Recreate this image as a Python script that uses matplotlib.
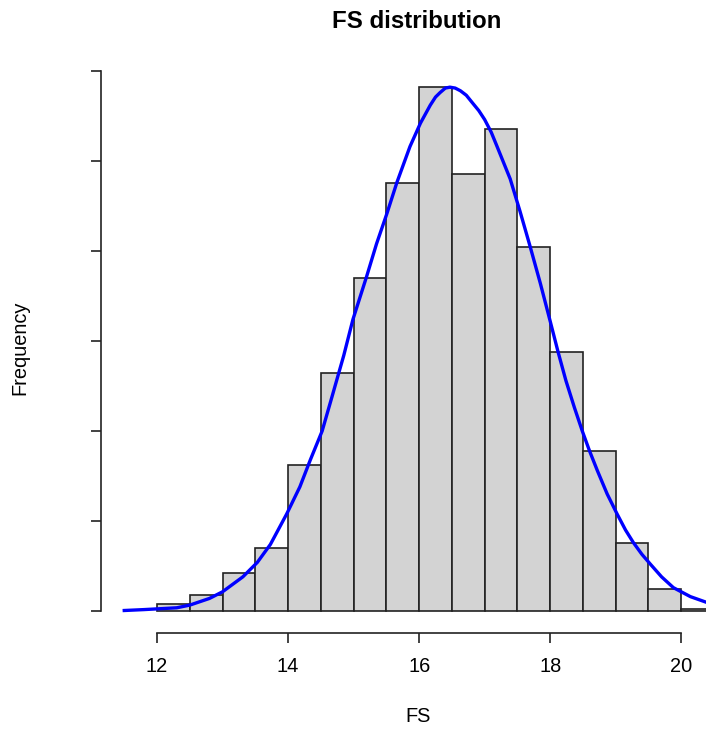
import matplotlib
matplotlib.use("Agg")
from matplotlib import pyplot as plt

plt.rcParams['font.family'] = ['Liberation Sans', 'DejaVu Sans']

# histogram bins (width 0.5) and counts
bin_edges = [12.0, 12.5, 13.0, 13.5, 14.0, 14.5, 15.0, 15.5, 16.0, 16.5,
             17.0, 17.5, 18.0, 18.5, 19.0, 19.5, 20.0, 20.5]
counts = [4, 9, 21, 35, 81, 132, 185, 238, 291, 243, 268, 202, 144, 89, 38, 12, 1]

# density curve (scaled to counts), read point by point
curve_x = [11.50, 11.80, 12.30, 12.50, 12.80, 13.00, 13.31, 13.53, 13.73, 13.98,
           14.18, 14.34, 14.52, 14.67, 14.85, 14.99, 15.20, 15.35, 15.51, 15.66,
           15.86, 16.02, 16.17, 16.25, 16.32, 16.40, 16.47, 16.55, 16.63, 16.72,
           16.82, 16.91, 17.00, 17.10, 17.19, 17.39, 17.54, 17.69, 17.85, 18.00,
           18.12, 18.24, 18.37, 18.49, 18.60, 18.72, 18.87, 19.02, 19.15, 19.27,
           19.40, 19.53, 19.70, 19.88, 20.14, 20.45]
curve_y = [0.3, 0.8, 1.8, 3.3, 7, 10.7, 19, 27, 37, 54,
           69, 84, 100, 119, 142, 162, 186, 204, 221, 238,
           258, 271, 281, 285.5, 288, 290.5, 291, 290.5, 289, 286.5,
           282, 278, 273, 266, 258, 240, 222, 203, 182, 161,
           144, 128, 113, 100, 89, 78, 65, 54, 45, 38,
           31.5, 26, 19, 13, 8, 4]

y_ticks = [0, 50, 100, 150, 200, 250, 300]
x_ticks = [12, 14, 16, 18, 20]

fig = plt.figure(figsize=(7.06, 7.32), dpi=100)
ax = fig.add_axes([101 / 706, 99 / 732, 632 / 706, 593 / 732])

widths = [b - a for a, b in zip(bin_edges[:-1], bin_edges[1:])]
ax.bar(bin_edges[:-1], counts, width=widths, align='edge',
       color='#d3d3d3', edgecolor='#222222', linewidth=1.2)
ax.plot(curve_x, curve_y, color='blue', linewidth=2.4)

ax.set_xlim(11.145, 20.79)
ax.set_ylim(-12.2, 317.2)

ax.spines['top'].set_visible(False)
ax.spines['right'].set_visible(False)
ax.spines['left'].set_bounds(0, 300)
ax.spines['bottom'].set_bounds(12, 20)
for s in ('left', 'bottom'):
    ax.spines[s].set_linewidth(1.2)
    ax.spines[s].set_color('#222222')

ax.set_xticks(x_ticks)
ax.set_xticklabels([str(t) for t in x_ticks])
ax.set_yticks(y_ticks)
ax.set_yticklabels([])
ax.tick_params(axis='both', length=7.5, width=1.2, color='#222222',
               labelsize=14.4, pad=10)

fig.text(417 / 706, 1 - 21 / 732, 'FS distribution', ha='center', va='center',
         fontsize=17.3, fontweight='bold')
fig.text(418 / 706, 1 - 716 / 732, 'FS', ha='center', va='center', fontsize=14.4)
fig.text(20 / 706, 1 - 348 / 732, 'Frequency', ha='center', va='center',
         rotation=90, fontsize=14.4)

fig.savefig('out.png', dpi=100)
